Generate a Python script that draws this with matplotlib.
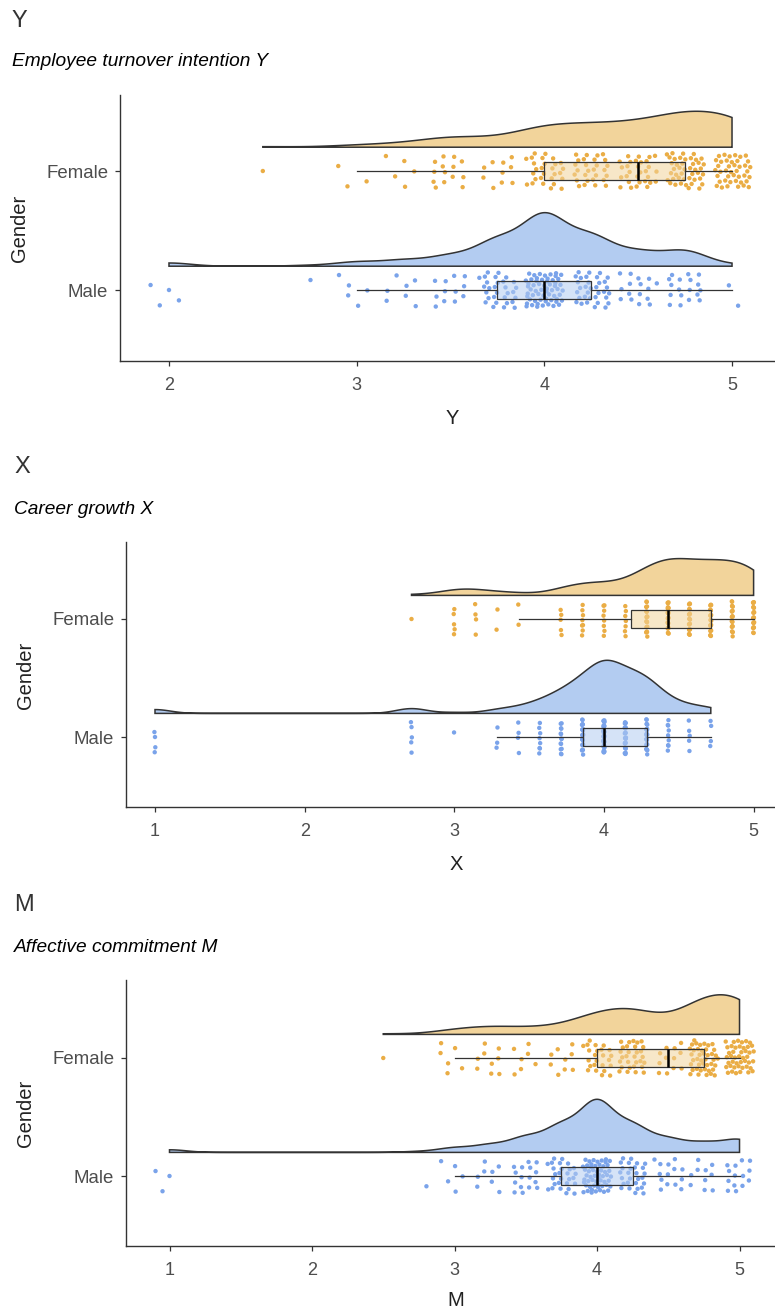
import numpy as np
import matplotlib
matplotlib.use("Agg")
import matplotlib.pyplot as plt
from matplotlib.patches import Rectangle
from matplotlib.colors import to_rgba

plt.rcParams['font.family'] = ['Liberation Sans', 'DejaVu Sans']

GENDERS = ["Male", "Female"]

# ---- Panel Y : Employee turnover intention ----
Y_MALE_VALUES = [2.0, 2.75, 3.0, 3.25, 3.5, 3.75, 4.0, 4.25, 4.5, 4.75, 5.0]
Y_MALE_COUNTS = [4, 1, 5, 7, 12, 30, 60, 34, 16, 18, 2]
Y_FEMALE_VALUES = [2.5, 3.0, 3.25, 3.5, 3.75, 4.0, 4.25, 4.5, 4.75, 5.0]
Y_FEMALE_COUNTS = [1, 3, 5, 14, 10, 28, 28, 30, 44, 42]

# ---- Panel X : Career growth ----
X_MALE_VALUES = [1.0, 2.714, 3.0, 3.286, 3.429, 3.571, 3.714, 3.857, 4.0, 4.143, 4.286, 4.429, 4.571, 4.714]
X_MALE_COUNTS = [4, 5, 1, 3, 4, 8, 14, 22, 36, 26, 24, 9, 5, 4]
X_FEMALE_VALUES = [2.714, 3.0, 3.143, 3.286, 3.429, 3.714, 3.857, 4.0, 4.143, 4.286, 4.429, 4.571, 4.714, 4.857, 5.0]
X_FEMALE_COUNTS = [1, 5, 4, 2, 2, 5, 8, 8, 7, 18, 24, 20, 21, 21, 20]

# ---- Panel M : Affective commitment ----
M_MALE_VALUES = [1.0, 2.75, 3.0, 3.25, 3.5, 3.75, 4.0, 4.25, 4.5, 4.75, 5.0]
M_MALE_COUNTS = [3, 1, 5, 8, 16, 28, 55, 28, 14, 10, 14]
M_FEMALE_VALUES = [2.5, 3.0, 3.25, 3.5, 3.75, 4.0, 4.25, 4.5, 4.75, 5.0]
M_FEMALE_COUNTS = [1, 6, 9, 7, 9, 24, 30, 12, 42, 45]

TITLES = ["Y", "X", "M"]
SUBTITLES = ["Employee turnover intention Y", "Career growth X", "Affective commitment M"]
X_TICKS = [[2, 3, 4, 5], [1, 2, 3, 4, 5], [1, 2, 3, 4, 5]]

FILL = {"Male": "#B3CCF1", "Female": "#F2D49B"}
POINT = {"Male": "#7AA3EA", "Female": "#EAAD45"}
EDGE = "#333333"

W, H = 775, 1313
fig = plt.figure(figsize=(W / 100, H / 100), dpi=100)


def rect(left, top, right, bottom):
    return [left / W, 1 - bottom / H, (right - left) / W, (bottom - top) / H]


layout = [
    dict(rect=rect(120, 95, 775, 361), xlim=(1.739, 5.229), ylim=(0.4034, 2.6387), jx=0.1,
         title_y=21, sub_y=62, tx=12, xlab=(452, 418), glab=(20, 228)),
    dict(rect=rect(126, 542, 775, 807), xlim=(0.8062, 5.143), ylim=(0.4068, 2.6525), jx=0.004,
         title_y=467, sub_y=510, tx=14, xlab=(456, 865), glab=(25, 675)),
    dict(rect=rect(126, 980, 775, 1246), xlim=(0.6947, 5.249), ylim=(0.4068, 2.661), jx=0.1,
         title_y=905, sub_y=948, tx=14, xlab=(456, 1300), glab=(25, 1113)),
]

data = [
    {"Male": (Y_MALE_VALUES, Y_MALE_COUNTS), "Female": (Y_FEMALE_VALUES, Y_FEMALE_COUNTS)},
    {"Male": (X_MALE_VALUES, X_MALE_COUNTS), "Female": (X_FEMALE_VALUES, X_FEMALE_COUNTS)},
    {"Male": (M_MALE_VALUES, M_MALE_COUNTS), "Female": (M_FEMALE_VALUES, M_FEMALE_COUNTS)},
]


def nrd0(x):
    sd = np.std(x, ddof=1)
    q75, q25 = np.percentile(x, [75, 25])
    lo = min(sd, (q75 - q25) / 1.34)
    if lo <= 0:
        lo = sd
    return 0.9 * lo * len(x) ** -0.2


def kde(x, grid, bw):
    z = (grid[:, None] - x[None, :]) / bw
    return np.exp(-0.5 * z ** 2).sum(axis=1) / (len(x) * bw * np.sqrt(2 * np.pi))


G = 1.32471795724474602596
A1, A2 = 1 / G, 1 / G ** 2

for p, (lay, dd) in enumerate(zip(layout, data)):
    ax = fig.add_axes(lay["rect"])
    ax.set_xlim(*lay["xlim"])
    ax.set_ylim(*lay["ylim"])

    samples = {g: np.repeat(np.array(dd[g][0], float), dd[g][1]) for g in GENDERS}
    dens = {}
    for g in GENDERS:
        x = samples[g]
        grid = np.linspace(x.min(), x.max(), 512)
        dens[g] = (grid, kde(x, grid, nrd0(x)))
    dmax = max(d.max() for _, d in dens.values())

    for ci, g in enumerate(GENDERS):
        c = ci + 1
        x = samples[g]
        # half violin
        grid, d = dens[g]
        base = c + 0.2
        top = base + 0.45 * d / dmax
        xs = np.concatenate([grid, grid[::-1]])
        ys = np.concatenate([top, np.full_like(grid, base)])
        ax.fill(xs, ys, facecolor=FILL[g], edgecolor=EDGE, lw=1.1, zorder=1)
        # jittered points
        i = np.arange(len(x))
        u = (0.5 + A1 * i) % 1
        v = (0.5 + A2 * i) % 1
        ax.scatter(x + (2 * u - 1) * lay["jx"], c + (2 * v - 1) * 0.15, s=10,
                   color=POINT[g], edgecolors='none', zorder=2)
        # box
        q1, med, q3 = np.percentile(x, [25, 50, 75])
        iqr = q3 - q1
        lo = x[x >= q1 - 1.5 * iqr].min()
        hi = x[x <= q3 + 1.5 * iqr].max()
        ax.add_patch(Rectangle((q1, c - 0.075), q3 - q1, 0.15, facecolor=to_rgba(FILL[g], 0.55),
                               edgecolor=EDGE, lw=0.9, zorder=3))
        ax.plot([lo, q1], [c, c], color=EDGE, lw=0.9, zorder=3)
        ax.plot([q3, hi], [c, c], color=EDGE, lw=0.9, zorder=3)
        ax.plot([med, med], [c - 0.075, c + 0.075], color='black', lw=1.8, zorder=4,
                solid_capstyle='butt')

    ax.set_yticks([1, 2])
    ax.set_yticklabels(GENDERS)
    ax.set_xticks(X_TICKS[p])
    for s in ["top", "right"]:
        ax.spines[s].set_visible(False)
    for s in ["left", "bottom"]:
        ax.spines[s].set_color(EDGE)
        ax.spines[s].set_linewidth(1.0)
    ax.tick_params(axis='x', length=3.5, width=0.9, pad=8, labelsize=13,
                   labelcolor='#4D4D4D', color=EDGE)
    ax.tick_params(axis='y', length=3.5, width=0.9, pad=5, labelsize=13.4,
                   labelcolor='#4D4D4D', color=EDGE)

    fig.text(lay["tx"] / W, 1 - lay["title_y"] / H, TITLES[p], fontsize=17,
             va='center', ha='left', color='#333333')
    fig.text(lay["tx"] / W, 1 - lay["sub_y"] / H, SUBTITLES[p], fontsize=13.8,
             style='italic', va='center', ha='left', color='black')
    fig.text(lay["xlab"][0] / W, 1 - lay["xlab"][1] / H, TITLES[p], fontsize=14.5,
             va='center', ha='center', color='#222222')
    fig.text(lay["glab"][0] / W, 1 - lay["glab"][1] / H, "Gender", fontsize=14.5,
             rotation=90, va='center', ha='center', color='#222222')

fig.savefig("out.png", dpi=100)
